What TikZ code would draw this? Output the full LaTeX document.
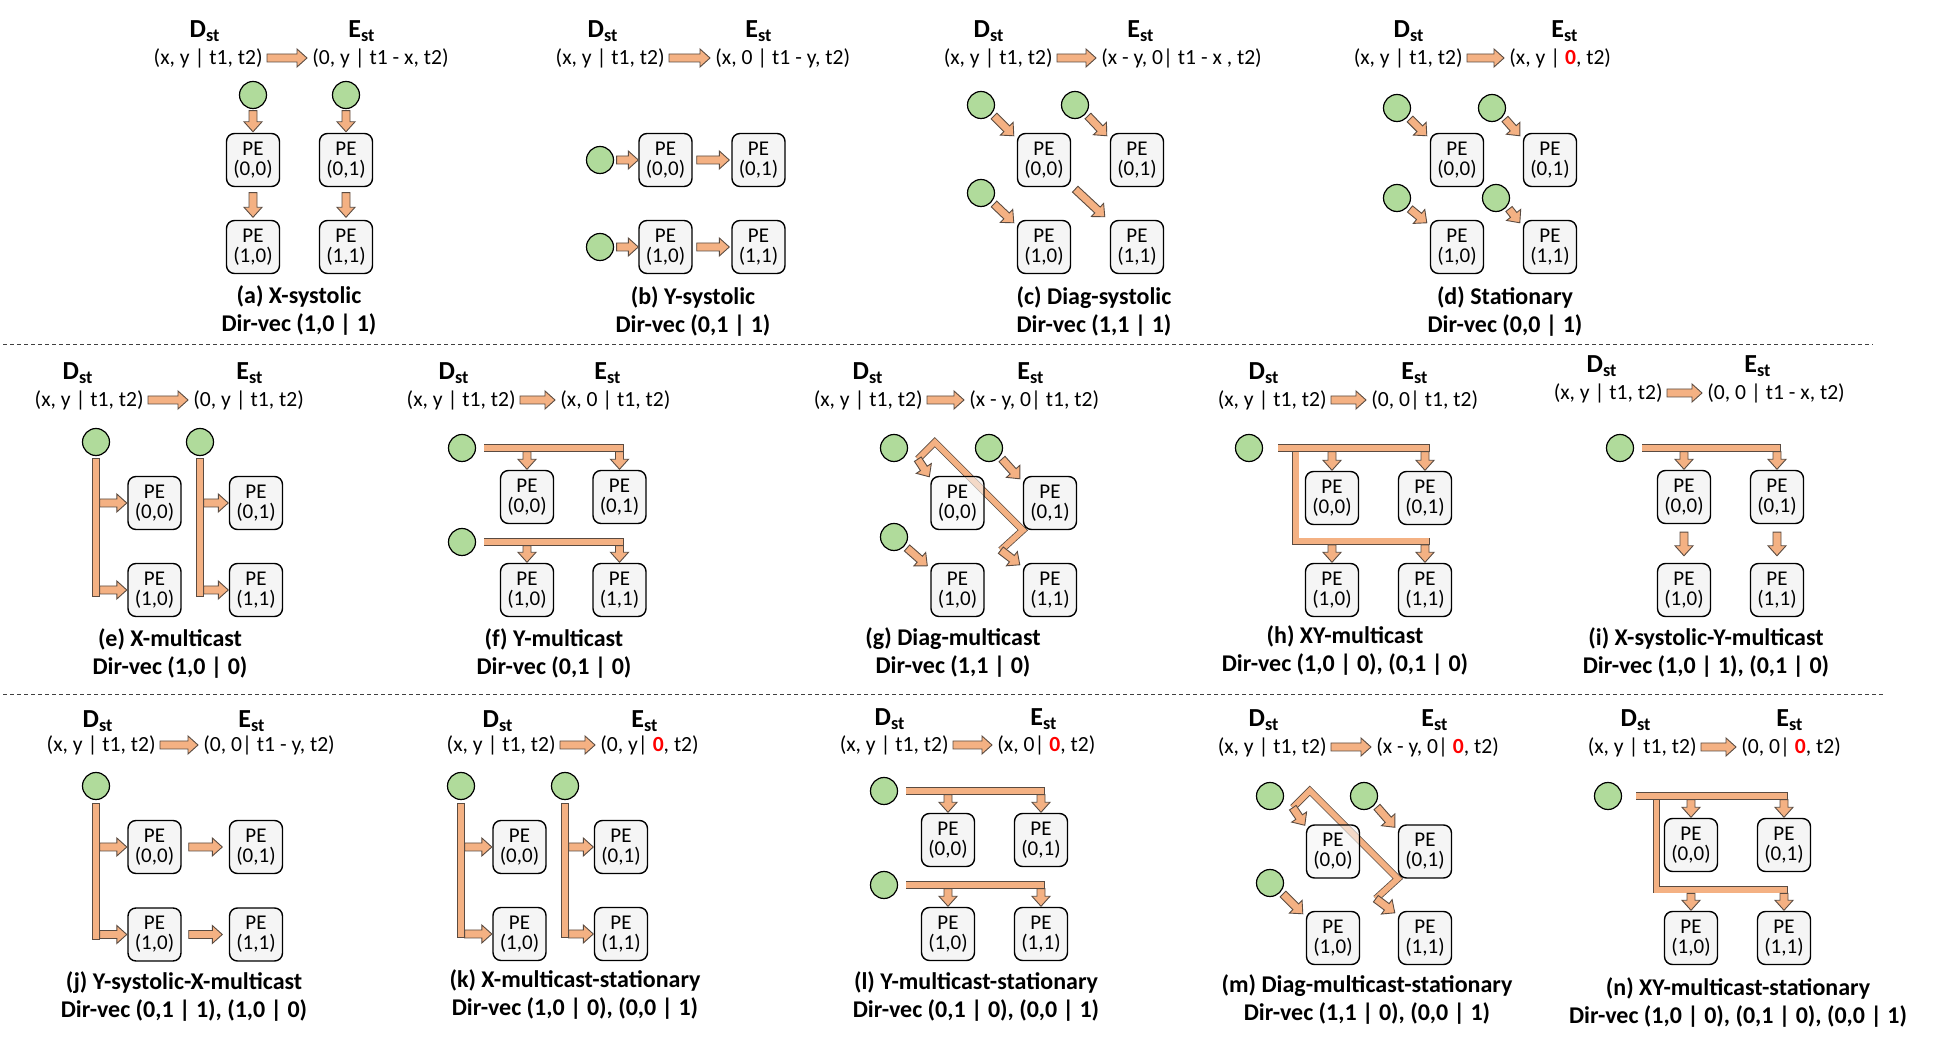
\documentclass[tikz,border=0pt]{standalone}
\usepackage{fontspec}
\setmainfont{Carlito}
\usepackage{tikz}
\usetikzlibrary{calc, backgrounds}
\definecolor{colArrow}{RGB}{244,177,131}
\definecolor{colEdge}{RGB}{90,75,65}
\definecolor{colSrc}{RGB}{176,219,155}
\definecolor{colPE}{RGB}{245,245,245}
\definecolor{colZero}{RGB}{255,0,0}

% block arrow: from, to, start gap, end gap (px)
\newcommand{\blk}[4]{%
  \draw[blkarr] let \p1=#1, \p2=#2,
    \n1={atan2(\y2-\y1,\x2-\x1)},
    \n2={veclen(\x2-\x1,\y2-\y1)-#4*0.5pt},
    \n3={#3*0.5pt}, \n4={\n2-5pt} in
    [shift={(\p1)}, rotate=\n1]
    (\n3,-2pt) -- (\n4,-2pt) -- (\n4,-4.5pt) -- (\n2,0pt)
    -- (\n4,4.5pt) -- (\n4,2pt) -- (\n3,2pt) -- cycle;}
% 2x2 PE array: [extra style of PE(0,0)]{prefix}{x0}{x1}{y0}{y1}
\newcommand{\pegrid}[6][]{%
  \node[pe, #1] (#200) at (#3,#5) {PE\\(0,0)};
  \node[pe] (#201) at (#4,#5) {PE\\(0,1)};
  \node[pe] (#210) at (#3,#6) {PE\\(1,0)};
  \node[pe] (#211) at (#4,#6) {PE\\(1,1)};}
\newcommand{\zr}{\textcolor{colZero}{\textbf{0}}}

\begin{document}
\begin{tikzpicture}[
  x=0.5pt, y=-0.5pt,
  pe/.style={rectangle, rounded corners=4pt, draw, line width=0.7pt, fill=colPE,
             minimum width=26.5pt, minimum height=26.5pt, inner sep=0pt,
             align=center, font=\fontsize{10.5}{10}\selectfont},
  src/.style={circle, draw, line width=0.6pt, fill=colSrc, minimum size=13.5pt, inner sep=0pt},
  hd/.style={font=\fontsize{13}{13}\selectfont\bfseries, inner sep=0pt, anchor=base},
  fml/.style={font=\fontsize{10.8}{12}\selectfont, inner sep=0pt},
  captxt/.style={font=\fontsize{12}{14}\selectfont\bfseries, inner sep=0pt, align=center},
  blkarr/.style={draw=colEdge, fill=colArrow, line width=0.45pt, line join=miter},
  bar/.style={draw=colEdge, double=colArrow, double distance=2.8pt, line width=0.4pt,
              line cap=rect, line join=miter},
  sepline/.style={draw=black!75, line width=0.5pt, dash pattern=on 2pt off 1.5pt},
]
\useasboundingbox (0,0) rectangle (1935,1052);

% (a) X-systolic
\node[hd] (aD) at (205,38) {D\textsubscript{st}};
\node[hd] (aE) at (362,38) {E\textsubscript{st}};
\node[fml, anchor=east] (aL) at (263,58) {(x, y | t1, t2)};
\node[fml, anchor=west] (aR) at (312,58) {(0, y | t1 - x, t2)};
\blk{(aL.east)}{(aR.west)}{4}{5}
\pegrid{a}{253}{346}{160}{247}
\node[src] (aIn1) at (253,95) {};
\node[src] (aIn2) at (346,95) {};
\blk{(aIn1.south)}{(a00.north)}{1.5}{1}
\blk{(a00.south)}{(a10.north)}{5.5}{2.5}
\blk{(aIn2.south)}{(a01.north)}{1.5}{1}
\blk{(a01.south)}{(a11.north)}{5.5}{2.5}
\node[captxt] (aCap) at (299,311) {(a) X-systolic\\Dir-vec (1,0 | 1)};

% (b) Y-systolic
\node[hd] (bD) at (603,38) {D\textsubscript{st}};
\node[hd] (bE) at (759,38) {E\textsubscript{st}};
\node[fml, anchor=east] (bL) at (665,58) {(x, y | t1, t2)};
\node[fml, anchor=west] (bR) at (715,58) {(x, 0 | t1 - y, t2)};
\blk{(bL.east)}{(bR.west)}{4}{5}
\pegrid{b}{665.5}{758.5}{160}{247}
\node[src] (bIn1) at (600,160) {};
\node[src] (bIn2) at (600,247) {};
\blk{(bIn1.east)}{(b00.west)}{2.5}{0}
\blk{(b00.east)}{(b01.west)}{4}{2}
\blk{(bIn2.east)}{(b10.west)}{2.5}{0}
\blk{(b10.east)}{(b11.west)}{4}{2}
\node[captxt] (bCap) at (693,312) {(b) Y-systolic\\Dir-vec (0,1 | 1)};

% (c) Diag-systolic
\node[hd] (cD) at (989,38) {D\textsubscript{st}};
\node[hd] (cE) at (1141,38) {E\textsubscript{st}};
\node[fml, anchor=east] (cL) at (1053,58) {(x, y | t1, t2)};
\node[fml, anchor=west] (cR) at (1101,58) {(x - y, 0| t1 - x , t2)};
\blk{(cL.east)}{(cR.west)}{4}{5}
\pegrid{c}{1044}{1137}{160}{247}
\node[src] (cIn1) at (981,105) {};
\node[src] (cIn2) at (1075,105) {};
\node[src] (cIn3) at (981,193) {};
\blk{($(cIn1)+(13,11)$)}{($(c00.north west)+(-3,3)$)}{0}{0}
\blk{($(cIn2)+(13,11)$)}{($(c01.north west)+(-3,3)$)}{0}{0}
\blk{($(cIn3)+(13,11)$)}{($(c10.north west)+(-3,3)$)}{0}{0}
\blk{($(c00.south east)+(4,2)$)}{($(c11.north west)+(-5,-3)$)}{0}{0}
\node[captxt] (cCap) at (1094,312) {(c) Diag-systolic\\Dir-vec (1,1 | 1)};

% (d) Stationary
\node[hd] (dD) at (1409,38) {D\textsubscript{st}};
\node[hd] (dE) at (1565,38) {E\textsubscript{st}};
\node[fml, anchor=east] (dL) at (1463,58) {(x, y | t1, t2)};
\node[fml, anchor=west] (dR) at (1509,58) {(x, y | \zr, t2)};
\blk{(dL.east)}{(dR.west)}{4}{5}
\pegrid{d}{1457}{1550}{160}{247}
\node[src] (dIn1) at (1397,108) {};
\node[src] (dIn2) at (1492,108) {};
\node[src] (dIn3) at (1397,198) {};
\node[src] (dIn4) at (1496,198) {};
\blk{($(dIn1)+(13,11)$)}{($(d00.north west)+(-3,3)$)}{0}{0}
\blk{($(dIn2)+(13,11)$)}{($(d01.north west)+(-3,3)$)}{0}{0}
\blk{($(dIn3)+(13,11)$)}{($(d10.north west)+(-3,3)$)}{0}{0}
\blk{($(dIn4)+(13,11)$)}{($(d11.north west)+(-3,3)$)}{0}{0}
\node[captxt] (dCap) at (1505,312) {(d) Stationary\\Dir-vec (0,0 | 1)};

\draw[sepline] (3,345) -- (1873,345);

% (e) X-multicast
\node[hd] (eD) at (78,380) {D\textsubscript{st}};
\node[hd] (eE) at (250,380) {E\textsubscript{st}};
\node[fml, anchor=east] (eL) at (144,400) {(x, y | t1, t2)};
\node[fml, anchor=west] (eR) at (193,400) {(0, y | t1, t2)};
\blk{(eL.east)}{(eR.west)}{4}{5}
\pegrid{e}{154.5}{256}{503}{590}
\node[src] (eIn1) at (96,442) {};
\node[src] (eIn2) at (200,442) {};
\draw[bar] ($(eIn1.south)+(0,6)$) -- ($(eIn1 |- e10)+(0,3)$);
\draw[bar] ($(eIn2.south)+(0,6)$) -- ($(eIn2 |- e11)+(0,3)$);
\blk{(eIn1 |- e00)}{(e00.west)}{3.6}{0.5}
\blk{(eIn1 |- e10)}{(e10.west)}{3.6}{0.5}
\blk{(eIn2 |- e01)}{(e01.west)}{3.6}{0.5}
\blk{(eIn2 |- e11)}{(e11.west)}{3.6}{0.5}
\node[captxt] (eCap) at (170,654) {(e) X-multicast\\Dir-vec (1,0 | 0)};

% (f) Y-multicast
\node[hd] (fD) at (454,380) {D\textsubscript{st}};
\node[hd] (fE) at (608,380) {E\textsubscript{st}};
\node[fml, anchor=east] (fL) at (516,400) {(x, y | t1, t2)};
\node[fml, anchor=west] (fR) at (560,400) {(x, 0 | t1, t2)};
\blk{(fL.east)}{(fR.west)}{4}{5}
\pegrid{f}{527}{619.5}{497}{590}
\node[src] (fIn1) at (462,448) {};
\node[src] (fIn2) at (462,542) {};
\draw[bar] ($(fIn1.east)+(11,0)$) -- ($(fIn1 -| f01)+(1,0)$);
\draw[bar] ($(fIn2.east)+(11,0)$) -- ($(fIn2 -| f11)+(1,0)$);
\blk{(fIn1 -| f00)}{(f00.north)}{3.6}{0.5}
\blk{(fIn1 -| f01)}{(f01.north)}{3.6}{0.5}
\blk{(fIn2 -| f10)}{(f10.north)}{3.6}{0.5}
\blk{(fIn2 -| f11)}{(f11.north)}{3.6}{0.5}
\node[captxt] (fCap) at (554,654) {(f) Y-multicast\\Dir-vec (0,1 | 0)};

% (g) Diag-multicast
\node[hd] (gD) at (868,380) {D\textsubscript{st}};
\node[hd] (gE) at (1031,380) {E\textsubscript{st}};
\node[fml, anchor=east] (gL) at (923,400) {(x, y | t1, t2)};
\node[fml, anchor=west] (gR) at (969,400) {(x - y, 0| t1, t2)};
\blk{(gL.east)}{(gR.west)}{4}{5}
\pegrid[fill opacity=0.6, text opacity=1]{g}{957.5}{1050}{503}{590}
\node[src] (gIn1) at (894,448) {};
\node[src] (gIn2) at (989,448) {};
\node[src] (gIn3) at (894,537) {};
\coordinate (gP2) at (g01.south west);
\coordinate (gP1) at ($(gP2)+(-88,-88)$);
\coordinate (gP0) at ($(gP1)+(-17,17)$);
\coordinate (gP3) at ($(gP2)+(-22,20)$);
\begin{scope}[on background layer]
\draw[bar, line cap=butt] (gP0) -- (gP1) -- (gP2) -- (gP3);
\end{scope}
\blk{(gP0)}{($(g00.north west)+(-1,1)$)}{0}{0}
\blk{(gP3)}{($(g11.north west)+(-3,2)$)}{0}{0}
\blk{($(gIn2)+(13,11)$)}{($(g01.north west)+(-3,3)$)}{0}{0}
\blk{($(gIn3)+(13,11)$)}{($(g10.north west)+(-3,3)$)}{0}{0}
\node[captxt] (gCap) at (953,653) {(g) Diag-multicast\\Dir-vec (1,1 | 0)};

% (h) XY-multicast
\node[hd] (hD) at (1264,380) {D\textsubscript{st}};
\node[hd] (hE) at (1415,380) {E\textsubscript{st}};
\node[fml, anchor=east] (hL) at (1327,400) {(x, y | t1, t2)};
\node[fml, anchor=west] (hR) at (1371,400) {(0, 0| t1, t2)};
\blk{(hL.east)}{(hR.west)}{4}{5}
\pegrid{h}{1332}{1425}{498}{590}
\node[src] (hIn) at (1249,448) {};
\coordinate (hV) at ($(h00.west |- hIn)+(-9,0)$);
\coordinate (hW) at ($(h10.north west)+(-9,-21.5)$);
\draw[bar] (hV) -- (hW) -- ($(hW -| h11)+(1,0)$);
\draw[bar] ($(hIn.east)+(18,0)$) -- ($(hIn -| h01)+(1,0)$);
\blk{(hIn -| h00)}{(h00.north)}{3.6}{0.5}
\blk{(hIn -| h01)}{(h01.north)}{3.6}{0.5}
\blk{(hW -| h10)}{(h10.north)}{3.6}{0.5}
\blk{(hW -| h11)}{(h11.north)}{3.6}{0.5}
\node[captxt] (hCap) at (1345,651) {(h) XY-multicast\\Dir-vec (1,0 | 0), (0,1 | 0)};

% (i) X-systolic-Y-multicast
\node[hd] (iD) at (1602,373) {D\textsubscript{st}};
\node[hd] (iE) at (1758,373) {E\textsubscript{st}};
\node[fml, anchor=east] (iL) at (1663,393) {(x, y | t1, t2)};
\node[fml, anchor=west] (iR) at (1707,393) {(0, 0 | t1 - x, t2)};
\blk{(iL.east)}{(iR.west)}{4}{5}
\pegrid{i}{1684}{1777}{497}{590}
\node[src] (iIn) at (1620,448) {};
\draw[bar] ($(iIn.east)+(11,0)$) -- ($(iIn -| i01)+(0.4,0)$);
\blk{(iIn -| i00)}{(i00.north)}{3.6}{0.5}
\blk{(iIn -| i01)}{(i01.north)}{3.6}{0.5}
\blk{(i00.south)}{(i10.north)}{8}{7}
\blk{(i01.south)}{(i11.north)}{8}{7}
\node[captxt] (iCap) at (1706,653) {(i) X-systolic-Y-multicast\\Dir-vec (1,0 | 1), (0,1 | 0)};

\draw[sepline] (3,695) -- (1883,695);

% (j) Y-systolic-X-multicast
\node[hd] (jD) at (98,728) {D\textsubscript{st}};
\node[hd] (jE) at (252,728) {E\textsubscript{st}};
\node[fml, anchor=east] (jL) at (156,745) {(x, y | t1, t2)};
\node[fml, anchor=west] (jR) at (203,745) {(0, 0| t1 - y, t2)};
\blk{(jL.east)}{(jR.west)}{4}{5}
\pegrid{j}{154.5}{256}{847}{934.5}
\node[src] (jIn) at (96,786) {};
\draw[bar] ($(jIn.south)+(0,7)$) -- ($(jIn |- j10)+(0,2)$);
\blk{(jIn |- j00)}{(j00.west)}{3.6}{0.5}
\blk{(jIn |- j10)}{(j10.west)}{3.6}{0.5}
\blk{(j00.east)}{(j01.west)}{7}{6.5}
\blk{(j10.east)}{(j11.west)}{7}{6.5}
\node[captxt] (jCap) at (184,996.5) {(j) Y-systolic-X-multicast\\Dir-vec (0,1 | 1), (1,0 | 0)};

% (k) X-multicast-stationary
\node[hd] (kD) at (498,728) {D\textsubscript{st}};
\node[hd] (kE) at (645,728) {E\textsubscript{st}};
\node[fml, anchor=east] (kL) at (556,745) {(x, y | t1, t2)};
\node[fml, anchor=west] (kR) at (600,745) {(0, y| \zr, t2)};
\blk{(kL.east)}{(kR.west)}{4}{5}
\pegrid{k}{519.5}{621}{847}{934}
\node[src] (kIn1) at (461,786) {};
\node[src] (kIn2) at (565,786) {};
\draw[bar] ($(kIn1.south)+(0,7)$) -- ($(kIn1 |- k10)+(0,0.4)$);
\draw[bar] ($(kIn2.south)+(0,7)$) -- ($(kIn2 |- k11)+(0,0.4)$);
\blk{(kIn1 |- k00)}{(k00.west)}{3.6}{0.5}
\blk{(kIn1 |- k10)}{(k10.west)}{3.6}{0.5}
\blk{(kIn2 |- k01)}{(k01.west)}{3.6}{0.5}
\blk{(kIn2 |- k11)}{(k11.west)}{3.6}{0.5}
\node[captxt] (kCap) at (575,995) {(k) X-multicast-stationary\\Dir-vec (1,0 | 0), (0,0 | 1)};

% (l) Y-multicast-stationary
\node[hd] (lD) at (890,726) {D\textsubscript{st}};
\node[hd] (lE) at (1044,726) {E\textsubscript{st}};
\node[fml, anchor=east] (lL) at (949,745) {(x, y | t1, t2)};
\node[fml, anchor=west] (lR) at (997,745) {(x, 0| \zr, t2)};
\blk{(lL.east)}{(lR.west)}{4}{5}
\pegrid{l}{948}{1041}{840}{934}
\node[src] (lIn1) at (884,791) {};
\node[src] (lIn2) at (884,885) {};
\draw[bar] ($(lIn1.east)+(11,0)$) -- ($(lIn1 -| l01)+(0.4,0)$);
\draw[bar] ($(lIn2.east)+(11,0)$) -- ($(lIn2 -| l11)+(0.4,0)$);
\blk{(lIn1 -| l00)}{(l00.north)}{3.6}{0.5}
\blk{(lIn1 -| l01)}{(l01.north)}{3.6}{0.5}
\blk{(lIn2 -| l10)}{(l10.north)}{3.6}{0.5}
\blk{(lIn2 -| l11)}{(l11.north)}{3.6}{0.5}
\node[captxt] (lCap) at (976,996.5) {(l) Y-multicast-stationary\\Dir-vec (0,1 | 0), (0,0 | 1)};

% (m) Diag-multicast-stationary
\node[hd] (mD) at (1264,727) {D\textsubscript{st}};
\node[hd] (mE) at (1435,727) {E\textsubscript{st}};
\node[fml, anchor=east] (mL) at (1327,747) {(x, y | t1, t2)};
\node[fml, anchor=west] (mR) at (1376,747) {(x - y, 0| \zr, t2)};
\blk{(mL.east)}{(mR.west)}{4}{5}
\pegrid[fill opacity=0.6, text opacity=1]{m}{1333}{1425}{851.5}{938}
\node[src] (mIn1) at (1270,796) {};
\node[src] (mIn2) at (1364,796) {};
\node[src] (mIn3) at (1270,883) {};
\coordinate (mP2) at (m01.south west);
\coordinate (mP1) at ($(mP2)+(-88,-88)$);
\coordinate (mP0) at ($(mP1)+(-17,17)$);
\coordinate (mP3) at ($(mP2)+(-22,20)$);
\begin{scope}[on background layer]
\draw[bar, line cap=butt] (mP0) -- (mP1) -- (mP2) -- (mP3);
\end{scope}
\blk{(mP0)}{($(m00.north west)+(-1,1)$)}{0}{0}
\blk{(mP3)}{($(m11.north west)+(-3,2)$)}{0}{0}
\blk{($(mIn2)+(13,11)$)}{($(m01.north west)+(-3,3)$)}{0}{0}
\blk{($(mIn3)+(13,11)$)}{($(m10.north west)+(-3,3)$)}{0}{0}
\node[captxt] (mCap) at (1367,999.5) {(m) Diag-multicast-stationary\\Dir-vec (1,1 | 0), (0,0 | 1)};

% (n) XY-multicast-stationary
\node[hd] (nD) at (1636,727) {D\textsubscript{st}};
\node[hd] (nE) at (1790,727) {E\textsubscript{st}};
\node[fml, anchor=east] (nL) at (1697,747) {(x, y | t1, t2)};
\node[fml, anchor=west] (nR) at (1741,747) {(0, 0| \zr, t2)};
\blk{(nL.east)}{(nR.west)}{4}{5}
\pegrid{n}{1691}{1784}{845}{938}
\node[src] (nIn) at (1608,796) {};
\coordinate (nV) at ($(n00.west |- nIn)+(-7.5,0)$);
\coordinate (nW) at ($(n10.north west)+(-7.5,-21)$);
\draw[bar] (nV) -- (nW) -- ($(nW -| n11)+(0.4,0)$);
\draw[bar] ($(nIn.east)+(17,0)$) -- ($(nIn -| n01)+(0.4,0)$);
\blk{(nIn -| n00)}{(n00.north)}{3.6}{0.5}
\blk{(nIn -| n01)}{(n01.north)}{3.6}{0.5}
\blk{(nW -| n10)}{(n10.north)}{3.6}{0.5}
\blk{(nW -| n11)}{(n11.north)}{3.6}{0.5}
\node[captxt] (nCap) at (1738,1003) {(n) XY-multicast-stationary\\Dir-vec (1,0 | 0), (0,1 | 0), (0,0 | 1)};

\end{tikzpicture}
\end{document}
